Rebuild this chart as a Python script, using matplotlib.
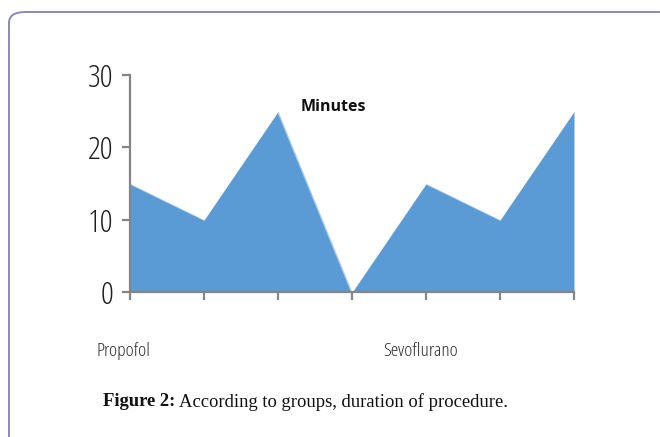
import numpy as np
import matplotlib
matplotlib.use('Agg')
from matplotlib import pyplot as plt
from matplotlib.patches import FancyBboxPatch
import matplotlib.transforms as mtransforms

# Duration of procedure (minutes) for each case, two groups side by side
positions = [0, 1, 2, 3, 4, 5, 6]
minutes = [15, 10, 25, 0, 15, 10, 25]
group_names = ['Propofol', 'Sevoflurano']
group_starts = [0, 4]
y_ticks = [0, 10, 20, 30]

W, H = 660, 437
fig = plt.figure(figsize=(W / 100, H / 100), dpi=100)
fig.patch.set_facecolor('white')

# rounded frame around the figure panel
frame = FancyBboxPatch((9 / W, -0.2), 1.2, (H - 12) / H + 0.2,
                       boxstyle='round,pad=0,rounding_size=0.025',
                       transform=fig.transFigure, facecolor='none',
                       edgecolor='#8c88bb', linewidth=1.4)
fig.patches.append(frame)

ax = fig.add_axes([130 / W, 1 - 292 / H, (574 - 130) / W, (292 - 75) / H])
ax.fill_between(positions, minutes, 0, color='#5b9bd5', linewidth=0)
ax.plot(positions, minutes, color='white', linewidth=1.5, alpha=0.5)

ax.set_xlim(0, 6)
ax.set_ylim(0, 30)
ax.set_yticks(y_ticks)
ax.set_xticks(positions)
ax.set_xticklabels([])

for side in ['top', 'right']:
    ax.spines[side].set_visible(False)
for side in ['left', 'bottom']:
    ax.spines[side].set_color('#858585')
    ax.spines[side].set_linewidth(1.6)
    ax.spines[side].set_zorder(3)
ax.tick_params(axis='both', colors='#858585', width=1.6, length=6)
ax.tick_params(axis='y', labelcolor='#1e1e1e', labelsize=23, pad=6)
for lbl in ax.get_yticklabels():
    lbl.set_family('Open Sans')
    lbl.set_stretch('condensed')
    lbl.set_weight('medium')

ax.text(2.30, 25.6, 'Minutes', fontsize=11.5, fontweight='bold',
        family='Open Sans', ha='left', va='center', color='#111111')

# group labels below the axis, shifted a little left of their first tick
trans = mtransforms.blended_transform_factory(ax.transData, fig.transFigure)
shifts = [-0.45, -0.58]
for name, start, dx in zip(group_names, group_starts, shifts):
    ax.text(start + dx, 1 - 351 / H, name, transform=trans, fontsize=14,
            family='Open Sans', stretch='condensed', weight='medium',
            ha='left', va='center', color='#2e2e2e')

# caption: bold label followed by plain text
cap_y = 1 - 402 / H
head = fig.text(103 / W, cap_y, 'Figure 2:', fontsize=13.4,
                family='Liberation Serif', fontweight='bold',
                ha='left', va='center', color='#111111')
fig.canvas.draw()
bb = head.get_window_extent()
fig.text((bb.x1 + 4) / W, cap_y, 'According to groups, duration of procedure.',
         fontsize=13.4, family='Liberation Serif', ha='left', va='center',
         color='#111111')

fig.savefig('out.png', dpi=100)
